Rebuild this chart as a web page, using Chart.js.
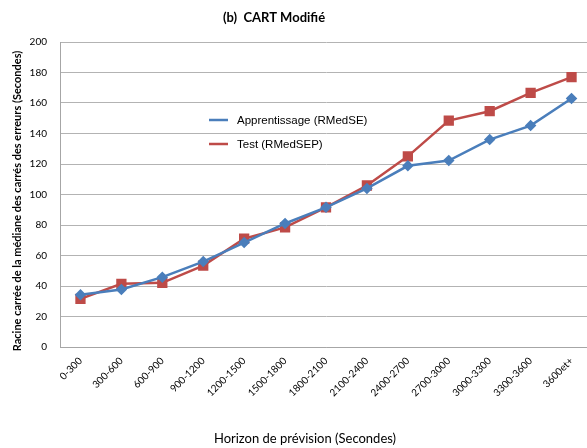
<!DOCTYPE html>
<html>
<head>
<meta charset="utf-8">
<script src="https://cdn.jsdelivr.net/npm/chart.js@4/dist/chart.umd.min.js"></script>
<style>
  html, body { margin: 0; padding: 0; background: #fff; overflow: hidden; }
  #wrap { width: 600px; height: 448px; }
</style>
</head>
<body>
<div id="wrap"><canvas id="myChart" width="600" height="448"></canvas></div>
<script>
// Horizon categories (seconds)
const horizons = ['0-300', '300-600', '600-900', '900-1200', '1200-1500', '1500-1800',
    '1800-2100', '2100-2400', '2400-2700', '2700-3000', '3000-3300', '3300-3600', '3600et+'];

// RMedSE on training data
const apprentissage = [34.2, 37.7, 45.8, 56, 68.5, 81, 91.6, 104, 118.8, 122.3, 136, 145.2, 163];
// RMedSEP on test data
const test = [31.6, 41.4, 42.1, 53.4, 71, 78.4, 91.6, 105.9, 125, 148.5, 154.6, 166.7, 177];

const yTicks = [0, 20, 40, 60, 80, 100, 120, 140, 160, 180, 200];

const titleText = '(b)  CART Modifié';
const yTitle = 'Racine carrée de la médiane des carrés des erreurs (Secondes)';
const xTitle = 'Horizon de prévision (Secondes)';

const blue = '#4a7ebb';
const red = '#be4b48';

// Titles and in-plot legend
const decorations = {
    id: 'decorations',
    afterDraw(chart) {
        const ctx = chart.ctx;
        ctx.save();
        ctx.fillStyle = '#000';
        ctx.textBaseline = 'middle';
        ctx.textAlign = 'center';

        ctx.font = 'bold 13px Lato';
        ctx.fillText(titleText, 274, 18);

        ctx.font = '13px Lato';
        ctx.fillText(xTitle, 305, 439);

        ctx.save();
        ctx.translate(17, 201);
        ctx.rotate(-Math.PI / 2);
        ctx.font = 'bold 11px Lato';
        ctx.fillText(yTitle, 0, 0);
        ctx.restore();

        // legend
        ctx.textAlign = 'left';
        ctx.font = '11.5px "Liberation Sans"';
        chart.data.datasets.forEach((ds, i) => {
            const y = 120 + i * 24;
            ctx.strokeStyle = ds.borderColor;
            ctx.lineWidth = 2.5;
            ctx.beginPath();
            ctx.moveTo(209, y);
            ctx.lineTo(228, y);
            ctx.stroke();
            ctx.fillStyle = '#000';
            ctx.fillText(ds.label, 237, y + 1);
        });
        ctx.restore();
    }
};

const ctx = document.getElementById('myChart').getContext('2d');
new Chart(ctx, {
    type: 'line',
    data: {
        labels: horizons,
        datasets: [
            {
                label: 'Apprentissage (RMedSE)',
                data: apprentissage,
                borderColor: blue,
                backgroundColor: blue,
                borderWidth: 2.5,
                pointStyle: 'rectRot',
                pointRadius: 4,
                tension: 0
            },
            {
                label: 'Test (RMedSEP)',
                data: test,
                borderColor: red,
                backgroundColor: red,
                borderWidth: 2.5,
                pointStyle: 'rect',
                pointRadius: 5.5,
                tension: 0
            }
        ]
    },
    options: {
        responsive: false,
        animation: false,
        layout: { padding: { top: 42, right: 0, left: 0, bottom: 0 } },
        plugins: {
            legend: { display: false },
            tooltip: { enabled: false }
        },
        scales: {
            x: {
                offset: true,
                grid: { display: false, drawTicks: false },
                border: { color: '#a6a6a6', width: 1 },
                ticks: {
                    minRotation: 45,
                    maxRotation: 45,
                    padding: 8,
                    color: '#000',
                    font: { family: 'Lato', size: 10 }
                },
                afterFit(scale) { scale.height = 101; }
            },
            y: {
                min: 0,
                max: 200,
                afterBuildTicks(scale) { scale.ticks = yTicks.map(v => ({ value: v })); },
                grid: { color: '#b3b3b3', lineWidth: 1, drawTicks: false },
                border: { color: '#a6a6a6', width: 1 },
                ticks: {
                    padding: 13,
                    color: '#000',
                    font: { family: 'Lato', size: 10 }
                },
                afterFit(scale) { scale.width = 60; }
            }
        }
    },
    plugins: [decorations]
});
</script>
</body>
</html>
